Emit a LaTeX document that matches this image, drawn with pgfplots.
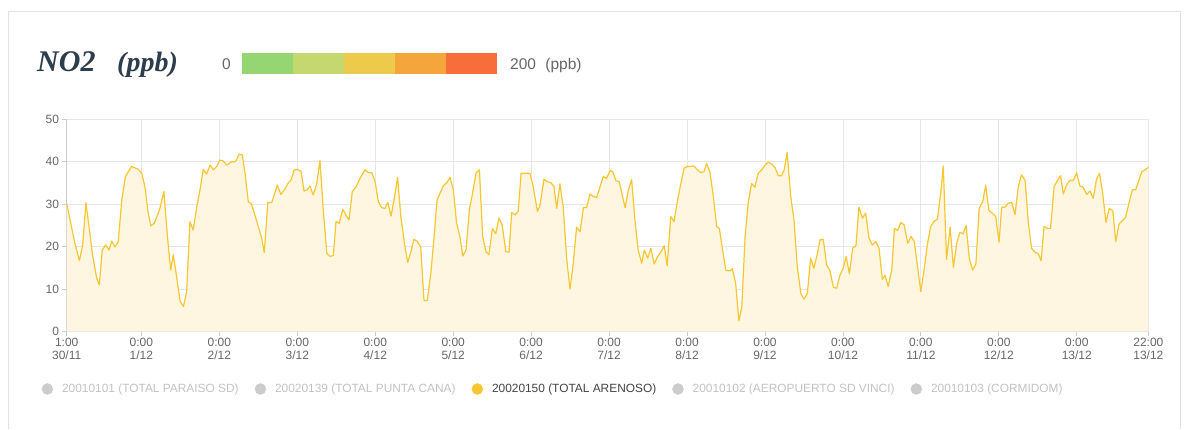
\documentclass[border=0pt]{standalone}
\usepackage{pgfplots}
\pgfplotsset{compat=1.18}
\usepackage{pgfplotstable}
\usepackage{fontspec}
\setmainfont{Liberation Sans}
\newfontfamily\titlefont{Liberation Serif}
\definecolor{nline}{HTML}{F8C630}
\definecolor{nfill}{HTML}{FEF6E1}
\definecolor{gridc}{HTML}{E6E6E6}
\definecolor{axisc}{HTML}{CCCCCC}
\definecolor{tickc}{HTML}{666666}
\definecolor{lgtext}{HTML}{C2C2C2}
\definecolor{lgcirc}{HTML}{CCCCCC}
\definecolor{lgact}{HTML}{444444}
\definecolor{titlec}{HTML}{2E3D4C}
\definecolor{cardc}{HTML}{E3E3E3}
\definecolor{sa}{HTML}{95D672}
\definecolor{sb}{HTML}{C5D870}
\definecolor{sc}{HTML}{EDCA4C}
\definecolor{sd}{HTML}{F4A53B}
\definecolor{se}{HTML}{F76E3A}
\pgfplotstableread{
h v
0 30.2
2.5 20.8
3.9 16.7
4.9 20.4
5.9 30.4
8.0 17.7
9.2 12.6
10.0 11.0
10.9 19.1
11.9 20.4
13.0 19.2
13.8 21.3
14.8 19.9
15.8 21.1
16.9 31.0
18.0 36.5
19.9 38.9
22.0 38.2
23.0 37.3
24.0 34.1
25.0 27.9
25.8 24.9
26.9 25.5
28.6 29.0
29.8 33.0
30.9 22.4
31.9 14.5
32.7 18.1
33.7 13.0
34.8 7.1
35.8 5.9
36.8 9.4
37.8 25.9
38.8 23.9
39.9 29.4
40.9 33.4
41.9 38.2
42.9 37.1
44.0 39.2
45.0 38.1
46.0 38.9
47.0 40.4
48.0 40.2
49.1 39.2
50.6 40.0
51.8 40.0
52.9 41.8
53.9 41.6
54.7 37.3
55.7 30.6
56.7 30.0
58.5 25.5
59.8 22.0
60.6 18.6
61.7 30.4
62.9 30.4
64.6 34.5
65.7 32.3
66.8 33.4
67.8 34.8
68.8 35.7
69.8 38.1
70.9 38.2
71.9 37.7
72.8 33.1
73.8 33.4
74.6 34.3
75.6 32.2
76.7 34.9
77.7 40.3
78.7 28.6
79.8 18.4
80.8 17.7
81.8 17.9
82.6 25.9
83.6 25.5
84.7 28.8
85.9 27.1
86.6 26.3
87.6 33.0
88.7 34.0
90.0 36.1
91.5 38.1
92.5 37.5
93.6 37.4
94.6 35.3
95.6 30.6
96.6 29.2
97.6 29.0
98.5 30.4
99.5 27.2
100.5 31.4
101.5 36.3
102.5 27.1
103.6 20.8
104.6 16.3
105.6 18.8
106.5 21.7
107.5 21.3
108.6 19.9
109.6 7.3
110.6 7.3
111.7 13.7
112.7 22.4
113.6 31.0
115.5 34.3
116.6 35.1
117.6 36.3
118.6 33.4
119.6 25.5
120.6 22.4
121.5 17.8
122.5 19.2
123.5 28.6
124.5 32.6
125.6 37.4
126.6 38.1
127.6 22.4
128.6 18.8
129.5 18.1
130.6 24.3
131.6 23.0
132.6 26.7
133.6 25.1
134.7 18.8
135.7 18.7
136.5 28.0
137.5 27.5
138.5 28.3
139.4 37.3
140.6 37.3
142.1 37.3
143.1 34.1
144.4 28.3
145.2 29.8
146.4 35.9
147.4 35.3
148.5 35.1
149.5 34.1
150.3 29.0
151.3 34.8
152.3 29.4
153.4 16.9
154.4 10.0
155.4 16.1
156.4 24.6
157.5 23.5
158.5 29.2
159.5 29.2
160.5 32.4
161.5 31.8
162.6 31.6
163.6 34.1
164.6 36.5
165.6 36.1
166.7 37.9
167.5 37.7
168.5 35.5
169.5 35.3
170.4 32.2
171.3 29.2
172.3 33.4
173.3 35.8
174.3 26.3
175.3 19.2
176.4 16.1
177.2 19.2
178.2 17.3
179.2 19.6
180.2 15.9
181.3 17.7
182.3 18.8
183.3 20.2
184.2 15.5
185.3 27.1
186.3 25.9
187.3 30.6
188.3 34.5
189.4 38.5
190.4 38.9
191.4 38.9
192.4 39.0
193.4 38.2
194.5 37.4
195.5 37.7
196.3 39.6
197.3 37.7
198.3 32.2
199.4 24.7
200.2 24.3
201.2 19.2
202.2 14.4
203.5 14.3
204.2 14.8
205.2 11.4
206.2 2.5
207.1 5.9
208.1 22.4
209.1 30.6
210.1 34.9
211.1 34.0
212.1 37.3
213.2 38.1
214.2 39.2
215.2 39.9
216.3 39.4
217.3 38.6
218.3 36.7
219.3 36.7
220.1 38.1
221.0 42.2
222.1 31.8
223.1 26.3
224.1 15.3
225.2 9.0
226.2 7.6
227.2 9.0
228.2 17.3
229.2 14.9
230.3 18.4
231.1 21.6
232.1 21.7
233.1 15.7
234.1 14.4
235.2 10.4
236.2 10.2
237.2 13.3
238.2 14.9
239.1 17.7
240.1 13.6
241.1 19.6
242.1 20.2
243.0 29.3
244.1 26.7
245.1 27.9
246.1 22.0
247.1 20.4
248.2 21.2
249.2 19.6
250.2 12.3
251.0 13.3
252.0 10.6
253.1 14.5
253.9 24.3
254.9 23.8
255.9 25.7
256.9 25.1
258.0 20.8
259.0 22.4
260.0 21.2
261.0 15.3
262.0 9.4
263.0 14.5
264.0 20.4
265.0 24.7
266.0 25.9
267.1 26.5
268.1 32.6
268.9 39.0
269.9 17.0
271.0 24.6
272.0 15.1
273.0 20.8
274.0 23.4
275.0 23.0
275.9 25.0
276.9 17.1
277.9 14.5
278.9 15.9
279.9 29.0
281.0 30.6
281.9 34.5
282.9 28.5
283.9 27.9
285.0 27.1
286.0 21.0
286.8 29.3
287.8 29.3
288.8 30.2
289.9 30.4
290.9 27.5
291.9 34.1
292.9 36.9
294.0 35.6
295.0 25.5
296.0 19.6
297.0 18.7
298.0 18.4
298.9 16.7
299.8 24.7
300.8 24.3
301.8 24.3
302.9 34.1
303.9 35.6
304.9 36.7
305.7 32.4
306.7 34.5
307.8 35.7
308.8 35.6
309.8 37.4
310.8 34.3
311.8 34.0
312.9 32.3
313.9 33.1
314.9 31.4
315.9 35.9
316.8 37.3
317.8 32.6
318.8 25.7
319.8 29.0
320.9 28.5
321.8 21.2
322.8 25.3
323.8 26.1
324.8 26.9
325.9 30.4
326.9 33.4
327.9 33.4
328.9 35.6
329.8 37.7
330.8 38.1
331.8 38.7
}\nodata
\begin{document}
\begin{tikzpicture}[x=1pt,y=1pt]
\useasboundingbox (0,0) rectangle (1191,429);
% card border
\draw[cardc, line width=1pt] (8,0) -- (8,417) -- (1180,417) -- (1180,0);
\begin{axis}[
  at={(66.7pt,97.5pt)}, anchor=south west,
  scale only axis, width=1081.6pt, height=212.2pt,
  xmin=0, xmax=331.8, ymin=0, ymax=50,
  axis lines*=left,
  axis line style={draw=axisc, line width=0.8pt},
  grid=major,
  major grid style={draw=gridc, line width=0.8pt},
  tick align=outside, major tick length=4.5pt,
  tick style={draw=axisc, line width=0.8pt},
  ytick={0,10,20,30,40,50},
  xtick={0,22.92,46.83,70.74,94.65,118.56,142.47,166.38,190.29,214.20,238.11,262.02,285.93,309.85,331.8},
  xticklabels={{1:00\\30/11},{0:00\\1/12},{0:00\\2/12},{0:00\\3/12},{0:00\\4/12},{0:00\\5/12},{0:00\\6/12},{0:00\\7/12},{0:00\\8/12},{0:00\\9/12},{0:00\\10/12},{0:00\\11/12},{0:00\\12/12},{0:00\\13/12},{22:00\\13/12}},
  /pgf/number format/assume math mode=true,
  ticklabel style={font=\fontsize{12}{13}\selectfont, text=tickc},
  xticklabel style={align=center, inner sep=2pt},
  yticklabel style={inner sep=3pt},
  legend columns=5,
  legend style={at={(-0.0233,-0.271)}, anchor=west, draw=none, fill=none,
    inner sep=0pt, font=\fontsize{11.9}{14}\selectfont,
    /tikz/every even column/.append style={column sep=14pt}},
]
\addplot[forget plot, draw=none, fill=nfill] table[x=h,y=v] {\nodata} \closedcycle;
\addplot[forget plot, draw=nline, line width=1.2pt, line join=round] table[x=h,y=v] {\nodata};
\addlegendimage{legend image code/.code={\fill[lgcirc] (5.5pt,0pt) circle (5.5pt); \path (0pt,0pt) (18pt,0pt);}}
\addlegendentry{\textcolor{lgtext}{20010101 (TOTAL PARAISO SD)}}
\addlegendimage{legend image code/.code={\fill[lgcirc] (5.5pt,0pt) circle (5.5pt); \path (0pt,0pt) (18pt,0pt);}}
\addlegendentry{\textcolor{lgtext}{20020139 (TOTAL PUNTA CANA)}}
\addlegendimage{legend image code/.code={\fill[nline] (5.5pt,0pt) circle (5.5pt); \path (0pt,0pt) (18pt,0pt);}}
\addlegendentry{\textcolor{lgact}{20020150 (TOTAL ARENOSO)}}
\addlegendimage{legend image code/.code={\fill[lgcirc] (5.5pt,0pt) circle (5.5pt); \path (0pt,0pt) (18pt,0pt);}}
\addlegendentry{\textcolor{lgtext}{20010102 (AEROPUERTO SD VINCI)}}
\addlegendimage{legend image code/.code={\fill[lgcirc] (5.5pt,0pt) circle (5.5pt); \path (0pt,0pt) (18pt,0pt);}}
\addlegendentry{\textcolor{lgtext}{20010103 (CORMIDOM)}}
\end{axis}
% title
\node[anchor=base west, inner sep=0pt, text=titlec, font=\titlefont\bfseries\itshape\fontsize{30}{33}\selectfont] at (37,357) {NO2};
\node[anchor=base west, inner sep=0pt, text=titlec, font=\titlefont\bfseries\itshape\fontsize{28}{31}\selectfont] at (117,357) {(ppb)};
% colour scale
\node[anchor=base east, inner sep=0pt, text=tickc, font=\fontsize{15.5}{17}\selectfont] at (231,359) {0};
\fill[sa] (242,355) rectangle (293,376);
\fill[sb] (293,355) rectangle (344,376);
\fill[sc] (344,355) rectangle (395,376);
\fill[sd] (395,355) rectangle (446,376);
\fill[se] (446,355) rectangle (497,376);
\node[anchor=base west, inner sep=0pt, text=tickc, font=\fontsize{15.5}{17}\selectfont] at (510,359) {200\hspace{0.6em}(ppb)};
\end{tikzpicture}
\end{document}
